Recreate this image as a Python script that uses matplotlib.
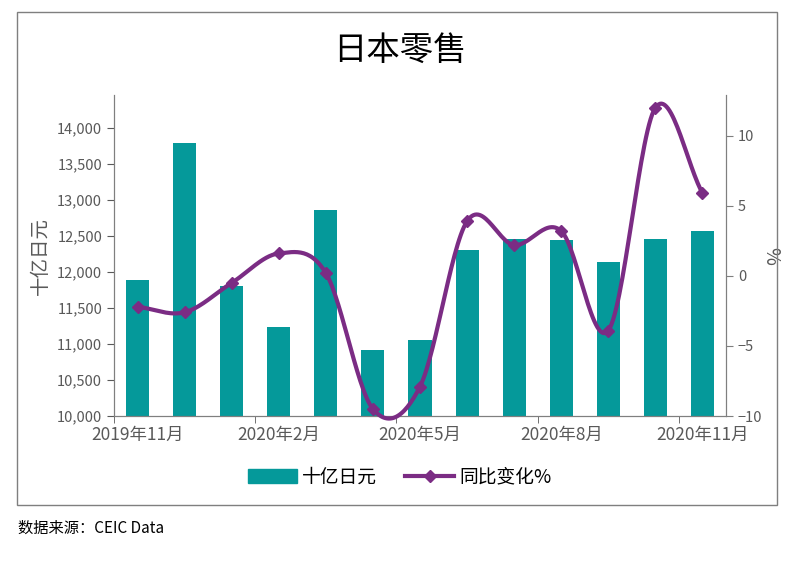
''' Japan retail: bars + smoothed YoY line '''
import numpy as np
import matplotlib
matplotlib.use('Agg')
import matplotlib.pyplot as plt
from matplotlib.patches import Rectangle
from matplotlib.lines import Line2D

plt.rcParams['font.family'] = ['Noto Sans CJK SC', 'DejaVu Sans']

# data
months = ['2019年11月', '2019年12月', '2020年1月', '2020年2月', '2020年3月', '2020年4月',
          '2020年5月', '2020年6月', '2020年7月', '2020年8月', '2020年9月', '2020年10月',
          '2020年11月']
sales = [11880, 13780, 11800, 11230, 12850, 10910, 11050, 12300, 12450, 12440, 12130, 12450, 12570]
yoy = [-2.2, -2.6, -0.5, 1.6, 0.2, -9.5, -7.9, 3.9, 2.2, 3.2, -3.9, 12.0, 5.9]

teal = '#05999A'
purple = '#7B2C84'
grey = '#595959'


def smooth(y, n=30):
    # catmull-rom style curve through the points (like excel smoothed line)
    y = np.asarray(y, float)
    m = len(y)
    t = np.zeros(m)
    t[1:-1] = (y[2:] - y[:-2]) / 2
    t[0] = y[1] - y[0]
    t[-1] = y[-1] - y[-2]
    xs, ys = [], []
    for i in range(m - 1):
        s = np.linspace(0, 1, n, endpoint=False)
        h00 = 2 * s**3 - 3 * s**2 + 1
        h10 = s**3 - 2 * s**2 + s
        h01 = -2 * s**3 + 3 * s**2
        h11 = s**3 - s**2
        ys.append(h00 * y[i] + h10 * t[i] + h01 * y[i + 1] + h11 * t[i + 1])
        xs.append(i + s)
    xs.append([m - 1])
    ys.append([y[-1]])
    return np.concatenate(xs), np.concatenate(ys)


fig = plt.figure(figsize=(8, 5.65), dpi=100)
fig.patches.append(Rectangle((17 / 800, 1 - 505 / 565), 760 / 800, 493 / 565,
                             transform=fig.transFigure, fill=False, ec='#7f7f7f', lw=1))

ax = fig.add_axes([0.1425, 0.2637, 0.765, 0.568])
x = np.arange(len(months))
ax.bar(x, sales, width=0.49, color=teal, zorder=2)
ax.set_xlim(-0.5, len(months) - 0.5)
ax.set_ylim(10000, 14450)
ax.set_yticks(range(10000, 14001, 500))
ax.set_yticklabels([f'{v:,}' for v in range(10000, 14001, 500)])
ax.set_xticks(x[::3])
ax.set_xticklabels(months[::3])
ax.set_xticks(np.arange(-0.5, len(months), 3), minor=True)
ax.tick_params(axis='x', which='major', length=0, pad=7, labelsize=12.5)
ax.tick_params(axis='x', which='minor', length=5, color='#7f7f7f')
ax.tick_params(axis='y', length=5, color='#7f7f7f', labelsize=10.5)
ax.tick_params(colors=grey, which='both')
ax.set_ylabel('十亿日元', color=grey, fontsize=14, labelpad=4)
ax.spines['top'].set_visible(False)
for s in ['left', 'right', 'bottom']:
    ax.spines[s].set_color('#7f7f7f')

ax2 = ax.twinx()
ax2.set_ylim(-10, 12.9)
ax2.set_yticks([-10, -5, 0, 5, 10])
ax2.tick_params(length=5, color='#7f7f7f', colors=grey, labelsize=10.5)
ax2.set_ylabel('%', color=grey, fontsize=14, rotation=270, labelpad=14)
ax2.spines['top'].set_visible(False)
for s in ['left', 'right', 'bottom']:
    ax2.spines[s].set_color('#7f7f7f')
sx, sy = smooth(yoy)
ax2.plot(sx, sy, color=purple, lw=3, zorder=3, clip_on=False, solid_capstyle='round')
ax2.plot(x, yoy, ls='none', marker='D', ms=6, color=purple, zorder=4, clip_on=False)

fig.text(0.5, 1 - 50 / 565, '日本零售', ha='center', va='center', fontsize=24)

handles = [Rectangle((0, 0), 1, 1, color=teal),
           Line2D([], [], color=purple, lw=3, marker='D', ms=6)]
fig.legend(handles, ['十亿日元', '同比变化%'], loc='center', bbox_to_anchor=(0.5, 1 - 477 / 565),
           ncol=2, frameon=False, fontsize=13.5, handlelength=2.6, columnspacing=1.5,
           handletextpad=0.3, prop={'weight': 'medium', 'size': 13.5})

fig.text(18 / 800, 1 - 528 / 565, '数据来源：CEIC Data', ha='left', va='center', fontsize=11)

fig.savefig('out.png', dpi=100)
